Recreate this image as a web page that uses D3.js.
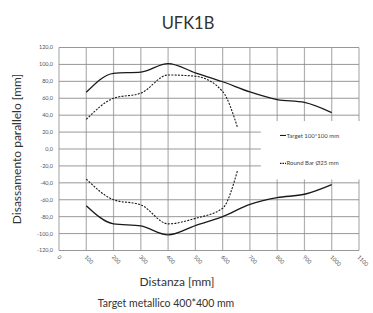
<!DOCTYPE html>
<html>
<head>
<meta charset="utf-8">
<script src="https://cdn.jsdelivr.net/npm/d3@7"></script>
<style>
  body { margin: 0; background: #fff; }
  text { font-family: Lato, "Open Sans", sans-serif; }
</style>
</head>
<body>
<div id="chart"></div>
<script>
// data
const distTarget = [100, 200, 300, 400, 500, 600, 700, 800, 900, 1000];
const targetUpper = [67, 89.5, 91, 101, 90, 79.5, 67.5, 58.5, 55, 43];
const targetLower = [-67, -88.5, -91, -101.5, -90.5, -80, -65.5, -57.5, -53.5, -42];

const distBar = [100, 200, 300, 400, 500, 600, 655];
const barUpper = [35, 60, 66, 87.5, 86, 68, 25];
const barLower = [-35.5, -60, -66, -88.5, -82, -70, -25];

const xTicks = d3.range(0, 1101, 100);
const yTicks = d3.range(-120, 121, 20);

const legendLabels = ['Target 100*100 mm', 'Round Bar  \u00D825 mm'];

const width = 373, height = 313;
const margin = {top: 47.5, right: 14, bottom: 62.5, left: 59};
const innerW = width - margin.left - margin.right;
const innerH = height - margin.top - margin.bottom;

const svg = d3.select('#chart').append('svg')
    .attr('width', width)
    .attr('height', height);

const g = svg.append('g')
    .attr('transform', 'translate(' + margin.left + ',' + margin.top + ')');

const xScale = d3.scaleLinear().domain([0, 1100]).range([0, innerW]);
const yScale = d3.scaleLinear().domain([-120, 120]).range([innerH, 0]);

// grid
g.append('g').selectAll('line')
    .data(xTicks)
    .join('line')
    .attr('x1', d => xScale(d)).attr('x2', d => xScale(d))
    .attr('y1', 0).attr('y2', innerH)
    .attr('stroke', '#b0b0b0')
    .attr('stroke-width', 1.2);

g.append('g').selectAll('line')
    .data(yTicks)
    .join('line')
    .attr('x1', 0).attr('x2', innerW)
    .attr('y1', d => yScale(d)).attr('y2', d => yScale(d))
    .attr('stroke', '#8c8c8c')
    .attr('stroke-width', 0.9);

// y tick labels
const fmt = d => d3.format('.1f')(d).replace('.', ',').replace('\u2212', '-');
g.append('g').selectAll('text')
    .data(yTicks)
    .join('text')
    .attr('x', -6)
    .attr('y', d => yScale(d))
    .attr('dy', '0.35em')
    .attr('text-anchor', 'end')
    .attr('font-size', 5.5)
    .attr('fill', '#555')
    .text(fmt);

// x tick labels (rotated)
g.append('g').selectAll('text')
    .data(xTicks)
    .join('text')
    .attr('transform', d => 'translate(' + (xScale(d) - 2) + ',' + (innerH + 7) + ') rotate(45)')
    .attr('font-size', 5.5)
    .attr('fill', '#555')
    .text(d => d);

// legend box covers grid
const legX = xScale(740), legY = yScale(33);
g.append('rect')
    .attr('x', legX)
    .attr('y', legY)
    .attr('width', innerW - legX + 14)
    .attr('height', yScale(-36) - legY)
    .attr('fill', '#fff');

// lines
const line = d3.line()
    .x(d => xScale(d[0]))
    .y(d => yScale(d[1]))
    .curve(d3.curveMonotoneX);

const series = [
    {x: distTarget, y: targetUpper, dash: null},
    {x: distTarget, y: targetLower, dash: null},
    {x: distBar, y: barUpper, dash: '2,1.3'},
    {x: distBar, y: barLower, dash: '2,1.3'}
];

series.forEach(s => {
    g.append('path')
        .datum(s.x.map((v, i) => [v, s.y[i]]))
        .attr('fill', 'none')
        .attr('stroke', '#1a1a1a')
        .attr('stroke-width', s.dash ? 1.1 : 1.3)
        .attr('stroke-dasharray', s.dash)
        .attr('d', line);
});

// legend
const legend = g.append('g');
legendLabels.forEach((lbl, i) => {
    const ly = yScale(i === 0 ? 16 : -17);
    legend.append('line')
        .attr('x1', 221).attr('x2', 227)
        .attr('y1', ly).attr('y2', ly)
        .attr('stroke', '#1a1a1a')
        .attr('stroke-width', 1.1)
        .attr('stroke-dasharray', i === 0 ? null : '1.5,1');
    legend.append('text')
        .attr('x', 227.5)
        .attr('y', ly)
        .attr('dy', '0.35em')
        .attr('font-size', 6)
        .attr('fill', '#444')
        .text(lbl);
});

// titles
svg.append('text')
    .attr('x', 188).attr('y', 29)
    .attr('text-anchor', 'middle')
    .attr('font-size', 16.5)
    .attr('fill', '#333')
    .text('UFK1B');

svg.append('text')
    .attr('transform', 'translate(21,' + (margin.top + innerH / 2) + ') rotate(-90)')
    .attr('text-anchor', 'middle')
    .attr('font-size', 12)
    .attr('fill', '#333')
    .text('Disassamento parallelo [mm]');

svg.append('text')
    .attr('x', 177).attr('y', 286)
    .attr('text-anchor', 'middle')
    .attr('font-size', 12)
    .attr('fill', '#333')
    .text('Distanza [mm]');

svg.append('text')
    .attr('x', 166).attr('y', 307)
    .attr('text-anchor', 'middle')
    .attr('font-size', 10.5)
    .attr('fill', '#333')
    .text('Target metallico 400*400 mm');
</script>
</body>
</html>
